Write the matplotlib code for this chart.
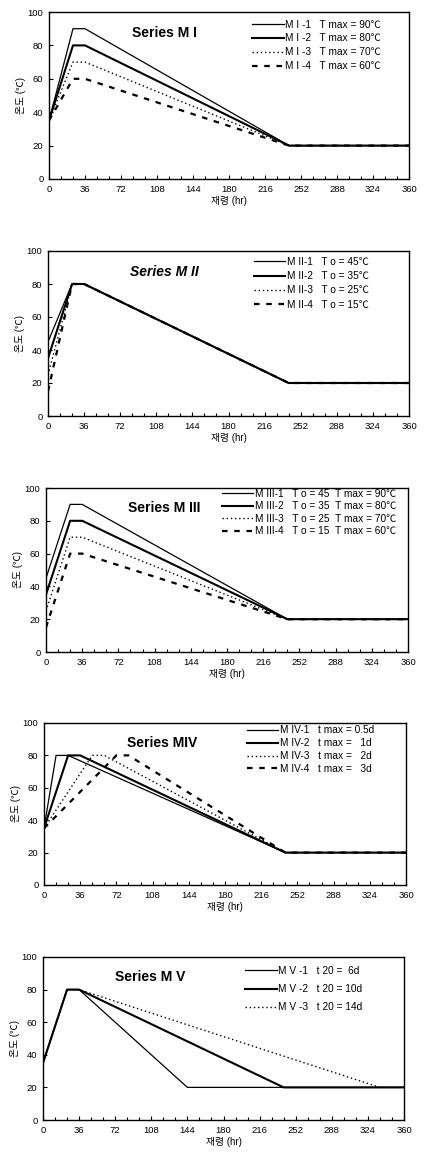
import matplotlib
matplotlib.use("Agg")
import matplotlib.pyplot as plt
from matplotlib.ticker import MultipleLocator

plt.rcParams['font.family'] = ['Liberation Sans', 'Noto Sans CJK KR', 'DejaVu Sans']

# ---------------- data ----------------
x_ticks = [0, 36, 72, 108, 144, 180, 216, 252, 288, 324, 360]
y_ticks = [0, 20, 40, 60, 80, 100]

# Series M I  (To = 35, varying Tmax)
m1_t = [0, 24, 36, 240, 360]
m1_1 = [35, 90, 90, 20, 20]
m1_2 = [35, 80, 80, 20, 20]
m1_3 = [35, 70, 70, 20, 20]
m1_4 = [35, 60, 60, 20, 20]
m1_labels = ["M I -1   T max = 90\u2103", "M I -2   T max = 80\u2103",
             "M I -3   T max = 70\u2103", "M I -4   T max = 60\u2103"]

# Series M II  (Tmax = 80, varying To)
m2_t = [0, 24, 36, 240, 360]
m2_1 = [45, 80, 80, 20, 20]
m2_2 = [35, 80, 80, 20, 20]
m2_3 = [25, 80, 80, 20, 20]
m2_4 = [15, 80, 80, 20, 20]
m2_labels = ["M II-1   T o = 45\u2103", "M II-2   T o = 35\u2103",
             "M II-3   T o = 25\u2103", "M II-4   T o = 15\u2103"]

# Series M III  (varying To and Tmax)
m3_t = [0, 24, 36, 240, 360]
m3_1 = [45, 90, 90, 20, 20]
m3_2 = [35, 80, 80, 20, 20]
m3_3 = [25, 70, 70, 20, 20]
m3_4 = [15, 60, 60, 20, 20]
m3_labels = ["M III-1   T o = 45  T max = 90\u2103", "M III-2   T o = 35  T max = 80\u2103",
             "M III-3   T o = 25  T max = 70\u2103", "M III-4   T o = 15  T max = 60\u2103"]

# Series M IV  (varying time to Tmax)
m4_1_t = [0, 12, 24, 240, 360]
m4_1 = [35, 80, 80, 20, 20]
m4_2_t = [0, 24, 36, 240, 360]
m4_2 = [35, 80, 80, 20, 20]
m4_3_t = [0, 48, 60, 240, 360]
m4_3 = [35, 80, 80, 20, 20]
m4_4_t = [0, 72, 84, 240, 360]
m4_4 = [35, 80, 80, 20, 20]
m4_labels = ["M IV-1   t max = 0.5d", "M IV-2   t max =   1d",
             "M IV-3   t max =   2d", "M IV-4   t max =   3d"]

# Series M V  (varying time to 20 C)
m5_1_t = [0, 24, 36, 144, 360]
m5_1 = [35, 80, 80, 20, 20]
m5_2_t = [0, 24, 36, 240, 360]
m5_2 = [35, 80, 80, 20, 20]
m5_3_t = [0, 24, 36, 336, 360]
m5_3 = [35, 80, 80, 20, 20]
m5_labels = ["M V -1   t 20 =  6d", "M V -2   t 20 = 10d", "M V -3   t 20 = 14d"]

# ---------------- styles ----------------
st_thin = dict(color='black', lw=0.9, ls='-')
st_thick = dict(color='black', lw=1.5, ls='-')
st_dot = dict(color='black', lw=1.0, ls=(0, (1, 2)))
st_dash = dict(color='black', lw=1.6, ls=(0, (2.5, 3)))

W, H = 426, 1155
fig = plt.figure(figsize=(W / 100, H / 100), dpi=100)

def add_axes(x0, x1, ytop, ybot):
    return fig.add_axes([x0 / W, 1 - ybot / H, (x1 - x0) / W, (ybot - ytop) / H])

def style(ax):
    ax.set_xlim(0, 360)
    ax.set_ylim(0, 100)
    ax.set_xticks(x_ticks)
    ax.set_yticks(y_ticks)
    ax.xaxis.set_minor_locator(MultipleLocator(12))
    ax.tick_params(axis='both', which='major', labelsize=6.8, direction='in', length=3, width=0.8, pad=4)
    ax.tick_params(axis='x', which='minor', direction='in', length=2.5, width=0.8)
    for s in ax.spines.values():
        s.set_linewidth(1.0)
    ax.set_xlabel("재령 (hr)", fontsize=7, labelpad=2)
    ax.set_ylabel("온도 (\u2103)", fontsize=7, labelpad=1)

def legend(ax, anchor, spacing):
    ax.legend(loc='upper left', bbox_to_anchor=anchor, frameon=False, fontsize=7.3,
              handlelength=3.1, handletextpad=0.15, labelspacing=spacing, borderpad=0,
              borderaxespad=0)

# Panel 1
ax1 = add_axes(49, 409, 12, 179)
ax1.plot(m1_t, m1_1, **st_thin, label=m1_labels[0])
ax1.plot(m1_t, m1_2, **st_thick, label=m1_labels[1])
ax1.plot(m1_t, m1_3, **st_dot, label=m1_labels[2])
ax1.plot(m1_t, m1_4, **st_dash, label=m1_labels[3])
style(ax1)
ax1.text(0.23, 0.875, "Series M I", transform=ax1.transAxes, fontsize=10, fontweight='bold', va='center')
legend(ax1, (0.565, 0.955), 0.38)

# Panel 2
ax2 = add_axes(48, 409, 251, 416)
ax2.plot(m2_t, m2_1, **st_thin, label=m2_labels[0])
ax2.plot(m2_t, m2_2, **st_thick, label=m2_labels[1])
ax2.plot(m2_t, m2_3, **st_dot, label=m2_labels[2])
ax2.plot(m2_t, m2_4, **st_dash, label=m2_labels[3])
style(ax2)
ax2.text(0.227, 0.873, "Series M II", transform=ax2.transAxes, fontsize=10, fontweight='bold',
         fontstyle='italic', va='center')
legend(ax2, (0.57, 0.965), 0.43)

# Panel 3
ax3 = add_axes(46, 408, 488, 652)
ax3.plot(m3_t, m3_1, **st_thin, label=m3_labels[0])
ax3.plot(m3_t, m3_2, **st_thick, label=m3_labels[1])
ax3.plot(m3_t, m3_3, **st_dot, label=m3_labels[2])
ax3.plot(m3_t, m3_4, **st_dash, label=m3_labels[3])
style(ax3)
ax3.text(0.227, 0.878, "Series M III", transform=ax3.transAxes, fontsize=10, fontweight='bold', va='center')
legend(ax3, (0.486, 0.995), 0.25)

# Panel 4
ax4 = add_axes(44, 406, 723, 885)
ax4.plot(m4_1_t, m4_1, **st_thin, label=m4_labels[0])
ax4.plot(m4_2_t, m4_2, **st_thick, label=m4_labels[1])
ax4.plot(m4_3_t, m4_3, **st_dot, label=m4_labels[2])
ax4.plot(m4_4_t, m4_4, **st_dash, label=m4_labels[3])
style(ax4)
ax4.text(0.23, 0.877, "Series MIV", transform=ax4.transAxes, fontsize=10, fontweight='bold', va='center')
legend(ax4, (0.56, 0.985), 0.28)

# Panel 5
ax5 = add_axes(43, 404, 957, 1120)
ax5.plot(m5_1_t, m5_1, **st_thin, label=m5_labels[0])
ax5.plot(m5_2_t, m5_2, **st_thick, label=m5_labels[1])
ax5.plot(m5_3_t, m5_3, **st_dot, label=m5_labels[2])
style(ax5)
ax5.text(0.2, 0.877, "Series M V", transform=ax5.transAxes, fontsize=10, fontweight='bold', va='center')
legend(ax5, (0.56, 0.945), 0.8)

fig.savefig("out.png", dpi=100)
